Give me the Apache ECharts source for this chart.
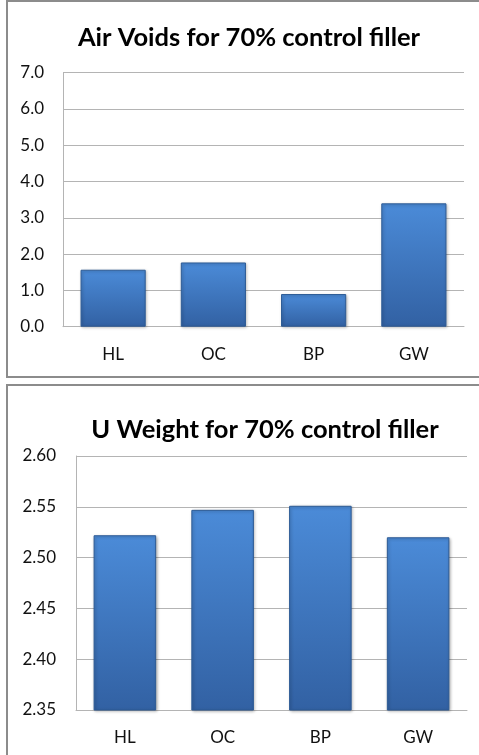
<!DOCTYPE html>
<html>
<head>
<meta charset="utf-8">
<script src="https://cdn.jsdelivr.net/npm/echarts@6/dist/echarts.min.js"></script>
<style>
  html, body { margin: 0; padding: 0; background: #fff; }
  #chart { width: 479px; height: 755px; }
</style>
</head>
<body>
<div id="chart"></div>
<script>
// Fillers tested
const categories = ['HL', 'OC', 'BP', 'GW'];
// Air voids (%) at 70% control filler
const airVoids = [1.57, 1.77, 0.90, 3.40];
// Unit weight at 70% control filler
const unitWeight = [2.522, 2.547, 2.551, 2.520];

const titles = ['Air Voids for 70% control filler', 'U Weight for 70% control filler'];

const FONT = 'Lato, "Open Sans", sans-serif';
const gridColor = '#b4b4b4';

const barFill = new echarts.graphic.LinearGradient(0, 0, 0, 1, [
  { offset: 0, color: '#4b8bd8' },
  { offset: 1, color: '#3261a3' }
]);

const barStyle = {
  color: barFill,
  borderColor: '#2d5b95',
  borderWidth: 1,
  shadowColor: 'rgba(0,0,0,0.3)',
  shadowBlur: 3,
  shadowOffsetX: 1,
  shadowOffsetY: 1
};

function xAxis(gridIndex) {
  return {
    type: 'category',
    gridIndex: gridIndex,
    data: categories,
    axisTick: { show: false },
    axisLine: { lineStyle: { color: gridColor, width: 1 } },
    axisLabel: { color: '#111', fontFamily: FONT, fontSize: 17, margin: 19 }
  };
}

const titleStyle = { fontFamily: FONT, fontWeight: 'bold', fontSize: 25.5, color: '#000' };

const chart = echarts.init(document.getElementById('chart'), null, { renderer: 'canvas' });

chart.setOption({
  animation: false,
  title: [
    { text: titles[0], left: 244, top: 33, textAlign: 'center', textVerticalAlign: 'middle',
      textStyle: titleStyle },
    { text: titles[1], left: 260, top: 425, textAlign: 'center', textVerticalAlign: 'middle',
      textStyle: titleStyle }
  ],
  graphic: [
    { type: 'rect', shape: { x: 7, y: 1, width: 480, height: 376 },
      style: { fill: 'none', stroke: '#8c8c8c', lineWidth: 2 }, silent: true },
    { type: 'rect', shape: { x: 7, y: 385, width: 480, height: 380 },
      style: { fill: 'none', stroke: '#8c8c8c', lineWidth: 2 }, silent: true }
  ],
  grid: [
    { left: 63, right: 15, top: 72.7, height: 254 },
    { left: 76, right: 12, top: 456, height: 254 }
  ],
  xAxis: [xAxis(0), xAxis(1)],
  yAxis: [
    {
      type: 'value', gridIndex: 0, min: 0, max: 7, interval: 1,
      axisLine: { show: true, lineStyle: { color: gridColor } },
      axisTick: { show: false },
      splitLine: { lineStyle: { color: gridColor } },
      axisLabel: { color: '#111', fontFamily: FONT, fontSize: 17, margin: 19,
        formatter: v => v.toFixed(1) }
    },
    {
      type: 'value', gridIndex: 1, min: 2.35, max: 2.6, interval: 0.05,
      axisLine: { show: true, lineStyle: { color: gridColor } },
      axisTick: { show: false },
      splitLine: { lineStyle: { color: gridColor } },
      axisLabel: { color: '#111', fontFamily: FONT, fontSize: 17, margin: 20,
        formatter: v => v.toFixed(2) }
    }
  ],
  series: [
    {
      type: 'bar', xAxisIndex: 0, yAxisIndex: 0, data: airVoids,
      barWidth: '65%',
      itemStyle: barStyle
    },
    {
      type: 'bar', xAxisIndex: 1, yAxisIndex: 1, data: unitWeight,
      barWidth: '64%',
      itemStyle: barStyle
    }
  ]
});
</script>
</body>
</html>
